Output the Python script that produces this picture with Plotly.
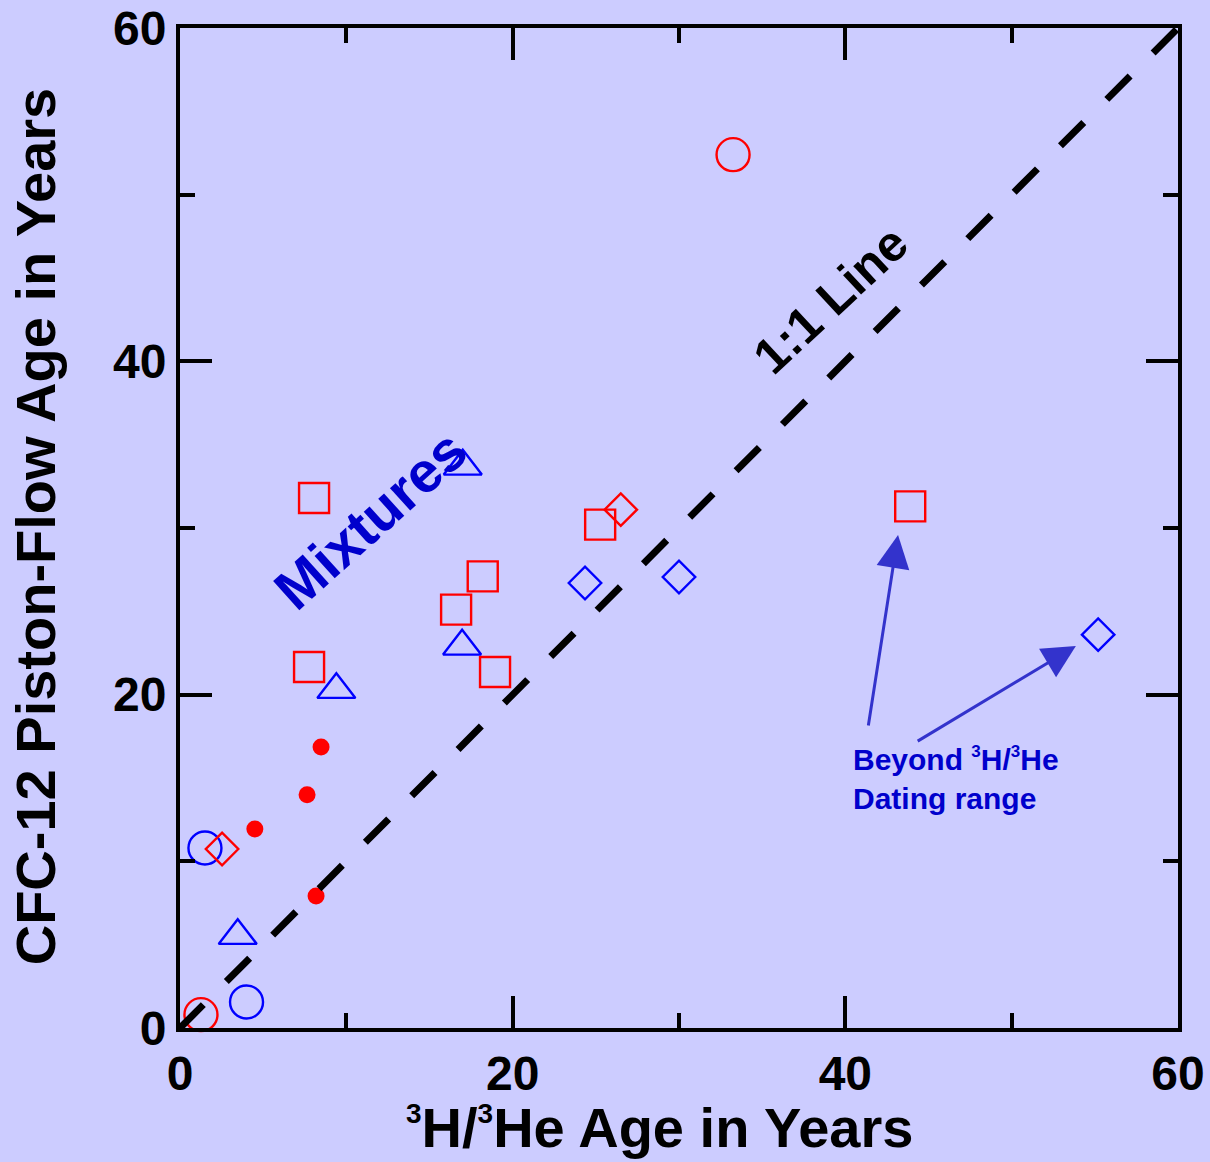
import plotly.graph_objects as go

# 3H/3He age (x) vs CFC-12 piston-flow age (y), in years
red_circle_x = [33.25, 1.26]
red_circle_y = [52.4, 0.8]

blue_circle_x = [1.5, 4.0]
blue_circle_y = [10.8, 1.56]

red_dot_x = [8.48, 7.64, 4.5, 8.18]
red_dot_y = [16.86, 14.0, 11.94, 7.92]

red_diamond_x = [2.53, 26.5]
red_diamond_y = [10.74, 31.1]

blue_diamond_x = [24.35, 30.0, 55.2]
blue_diamond_y = [26.7, 27.06, 23.6]

blue_triangle_x = [3.47, 9.4, 16.96, 17.0]
blue_triangle_y = [5.54, 20.3, 22.9, 33.7]

red_square_x = [8.06, 7.76, 16.6, 18.2, 18.94, 25.26, 43.9]
red_square_y = [31.8, 21.66, 25.1, 27.1, 21.36, 30.2, 31.3]

one_to_one = [0, 60]
tick_vals = [0, 20, 40, 60]

RED = "#FF0000"
BLUE = "#0000FF"
NAVY = "#0000CC"
ARROW = "#3333CC"
BG = "#CCCCFF"
FONT = "Liberation Sans, Arial, sans-serif"

fig = go.Figure()


def open_marker(x, y, symbol, color, size):
    fig.add_trace(go.Scatter(
        x=x, y=y, mode="markers", cliponaxis=False, showlegend=False,
        marker=dict(symbol=symbol, size=size, color="rgba(0,0,0,0)",
                    line=dict(color=color, width=2.4)),
    ))


open_marker(red_circle_x, red_circle_y, "circle", RED, 33)
open_marker(blue_circle_x, blue_circle_y, "circle", BLUE, 33)
open_marker(red_square_x, red_square_y, "square", RED, 30)
open_marker(red_diamond_x, red_diamond_y, "diamond", RED, 25)
open_marker(blue_diamond_x, blue_diamond_y, "diamond", BLUE, 25)
open_marker(blue_triangle_x, blue_triangle_y, "triangle-up", BLUE, 33)

fig.add_trace(go.Scatter(
    x=red_dot_x, y=red_dot_y, mode="markers", cliponaxis=False, showlegend=False,
    marker=dict(symbol="circle", size=17, color=RED, line=dict(width=0)),
))

# dashed 1:1 reference line, ending on a dash at both corners
fig.add_trace(go.Scatter(
    x=one_to_one, y=one_to_one, mode="lines", showlegend=False, cliponaxis=False,
    line=dict(color="black", width=7, dash="33px,32.6px"),
))

axis_common = dict(
    range=[0, 60], tickvals=tick_vals, ticks="inside", ticklen=32, tickwidth=3.5,
    tickcolor="black", showline=True, linecolor="black", linewidth=4,
    mirror="ticks", showgrid=False, zeroline=False, automargin=False,
    tickfont=dict(family=FONT, size=48, color="black", weight="bold"),
    minor=dict(dtick=10, ticks="inside", ticklen=15, tickwidth=3.5, tickcolor="black",
               showgrid=False),
)

fig.update_xaxes(**axis_common)
fig.update_yaxes(**axis_common)


def sup3(px):
    return f'<sup><span style="font-size:{px}px">3</span></sup>'


annotations = [
    # axis titles
    dict(x=0.48, y=-0.099, xref="paper", yref="paper",
         text=f"{sup3(28)}H/{sup3(28)}He Age in Years", showarrow=False,
         xanchor="center", yanchor="middle",
         font=dict(family=FONT, size=56, color="black", weight="bold")),
    dict(x=-0.145, y=0.502, xref="paper", yref="paper",
         text="CFC-12 Piston-Flow Age in Years", showarrow=False, textangle=-90,
         xanchor="center", yanchor="middle",
         font=dict(family=FONT, size=56, color="black", weight="bold")),
    # in-plot labels
    dict(x=11.4, y=30.5, text="Mixtures", showarrow=False, textangle=-42,
         font=dict(family=FONT, size=57, color=NAVY, weight="bold")),
    dict(x=39.1, y=43.7, text="1:1 Line", showarrow=False, textangle=-43,
         font=dict(family=FONT, size=50, color="black", weight="bold")),
    dict(x=40.35, y=14.95, text=f"Beyond {sup3(17)}H/{sup3(17)}He<br>Dating range",
         showarrow=False, xanchor="left", yanchor="middle", align="left",
         font=dict(family=FONT, size=30, color=NAVY, weight="bold")),
    dict(x=43.17, y=29.58, ax=41.37, ay=18.06, axref="x", ayref="y",
         text="", showarrow=True, arrowhead=2, arrowsize=2.2, arrowwidth=3,
         arrowcolor=ARROW),
    dict(x=53.86, y=22.92, ax=44.26, ay=17.16, axref="x", ayref="y",
         text="", showarrow=True, arrowhead=2, arrowsize=2.2, arrowwidth=3,
         arrowcolor=ARROW),
]

fig.update_layout(
    width=1210, height=1162,
    margin=dict(l=180, r=32, t=28, b=134, pad=0),
    paper_bgcolor=BG, plot_bgcolor=BG,
    annotations=annotations,
    showlegend=False,
)

fig.write_html("out.html")
